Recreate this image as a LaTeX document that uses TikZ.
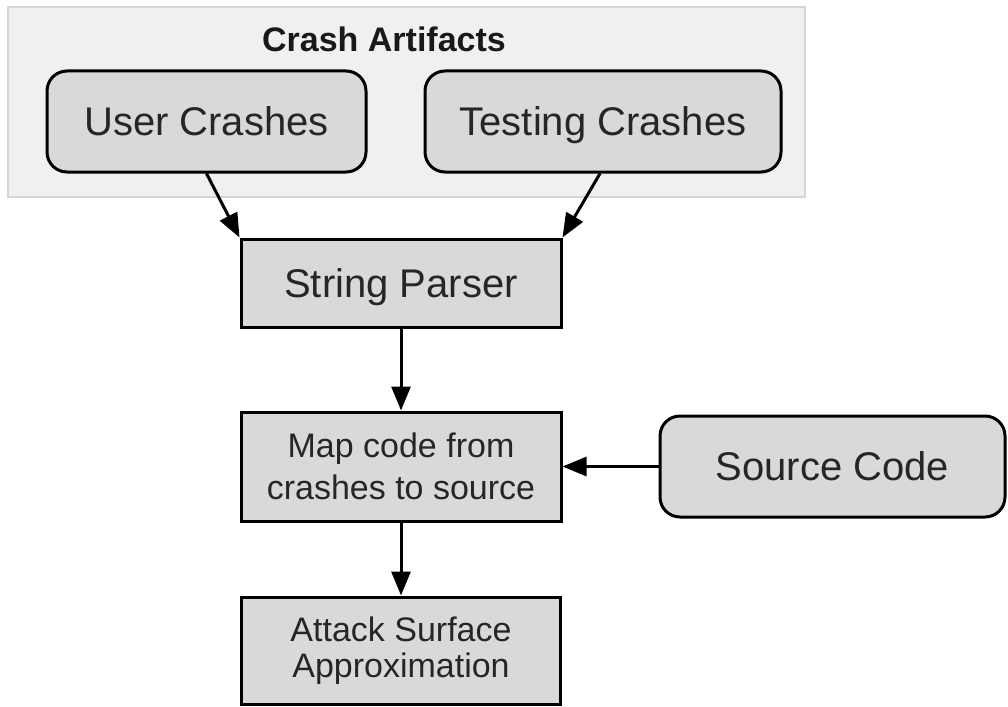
\documentclass[tikz,border=0pt]{standalone}
\usepackage{fontspec}
\setmainfont{Liberation Sans}
\usetikzlibrary{arrows.meta}
\definecolor{boxfill}{HTML}{D9D9D9}
\definecolor{bgfill}{HTML}{F0F0F0}
\definecolor{bgline}{HTML}{D6D6D6}
\tikzset{
  base/.style={draw=black, line width=3pt, fill=boxfill, inner sep=0pt, align=center, text=black!85},
  roundbox/.style={base, rounded corners=20pt, font=\fontsize{40}{46}\selectfont, text height=28.6pt, text depth=0pt},
  sqbox/.style={base, font=\fontsize{40}{46}\selectfont, text height=28.6pt, text depth=0pt},
  smallbox/.style={base},
  conn/.style={line width=3pt, -{Triangle[length=24pt,width=19pt]}},
}
\begin{document}
\begin{tikzpicture}[x=1pt,y=-1pt]
\useasboundingbox (0,0) rectangle (1008,706);
\fill[white] (0,0) rectangle (1008,706);
\draw[bgline, fill=bgfill, line width=1.5pt] (8,7) rectangle (805,197);
\node[font=\bfseries\fontsize{34}{38}\selectfont, text=black!90, inner sep=0pt, text height=24.3pt, text depth=0pt] (title) at (384,39) {Crash Artifacts};
\node[roundbox, minimum width=319pt, minimum height=101pt] (uc) at (206.5,121.5) {User Crashes};
\node[roundbox, minimum width=356pt, minimum height=101pt] (tc) at (603,121.5) {Testing Crashes};
\node[sqbox, minimum width=320pt, minimum height=88pt] (sp) at (401,283) {String Parser};
\node[smallbox, font=\fontsize{34}{42}\selectfont, minimum width=320pt, minimum height=109pt] (map) at (401,466.5) {Map code from\\crashes to source};
\node[roundbox, minimum width=345pt, minimum height=101pt] (src) at (832.5,466.5) {Source Code};
\node[smallbox, font=\fontsize{34}{36}\selectfont, minimum width=319pt, minimum height=107pt] (att) at (401,650.5) {Attack Surface\\Approximation};
\draw[conn] (uc.south) -- (sp.north west);
\draw[conn] ([xshift=-3pt]tc.south) -- (sp.north east);
\draw[conn] (sp.south) -- (map.north);
\draw[conn] (src.west) -- (map.east);
\draw[conn] (map.south) -- (att.north);
\end{tikzpicture}
\end{document}
